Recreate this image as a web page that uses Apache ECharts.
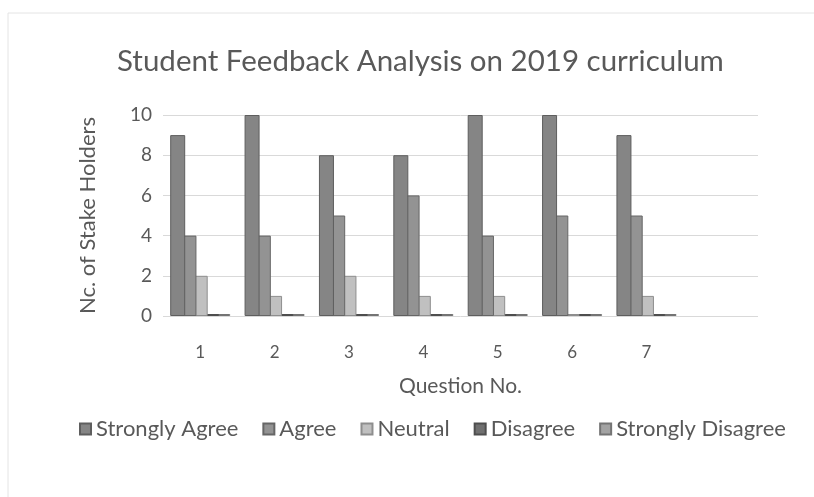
<!DOCTYPE html>
<html><head><meta charset="utf-8">
<script src="https://cdn.jsdelivr.net/npm/echarts@6/dist/echarts.min.js"></script>
<style>html,body{margin:0;padding:0;background:#fff}#c{width:814px;height:497px}</style>
</head><body><div id="c"></div>
<script>
const categories = ['1','2','3','4','5','6','7',''];
const seriesNames = ['Strongly Agree','Agree','Neutral','Disagree','Strongly Disagree'];
const stronglyAgree = [9,10,8,8,10,10,9];
const agree = [4,4,5,6,4,5,5];
const neutral = [2,1,2,1,1,0,1];
const disagree = [0,0,0,0,0,0,0];
const stronglyDisagree = [0,0,0,0,0,0,0];
const yTicks = [0,2,4,6,8,10];

const colors = ['#858585','#939393','#c0c0c0','#707070','#a3a3a3'];
const borders = ['#5e5e5e','#666666','#8e8e8e','#4e4e4e','#747474'];
const dataSets = [stronglyAgree, agree, neutral, disagree, stronglyDisagree];
const font = 'Lato';
const chart = echarts.init(document.getElementById('c'));
chart.setOption({
  animation:false,
  textStyle:{fontFamily:font,color:'#595959'},
  graphic:[{type:'rect',shape:{x:8,y:13,width:820,height:520},style:{fill:'none',stroke:'#e4e4e4',lineWidth:1},silent:true}],
  title:{text:'Student Feedback Analysis on 2019 curriculum',left:112,top:41,
    textStyle:{fontFamily:font,fontSize:29.5,fontWeight:'normal',color:'#595959'}},
  legend:{data:seriesNames,bottom:52,left:74,icon:'rect',itemWidth:11,itemHeight:11,itemGap:24,
    textStyle:{fontFamily:font,fontSize:22,color:'#595959'}},
  grid:{left:163,top:115,width:595,height:201},
  xAxis:{type:'category',data:categories,
    name:'Question No.',nameLocation:'middle',nameGap:60,
    nameTextStyle:{fontFamily:font,fontSize:21,color:'#595959'},
    axisLine:{show:false},axisTick:{show:false},
    axisLabel:{fontSize:17,color:'#595959',margin:28}},
  yAxis:{type:'value',min:0,max:10,interval:2,
    name:'Nc. of Stake Holders',nameLocation:'middle',nameGap:64,
    nameTextStyle:{fontFamily:font,fontSize:22,color:'#595959'},
    axisLine:{show:false},axisTick:{show:false},
    axisLabel:{fontSize:19,color:'#595959',margin:11,formatter:v=>yTicks.includes(v)?String(v):''},
    splitLine:{lineStyle:{color:'#d9d9d9'}}},
  series: seriesNames.map((n,i)=>({
    name:n,type:'bar',data:dataSets[i],barWidth:15,barGap:'-25%',barMinHeight:2,
    z:10-i,
    itemStyle:{color:colors[i],borderColor:borders[i],borderWidth:1}
  }))
});
</script></body></html>
